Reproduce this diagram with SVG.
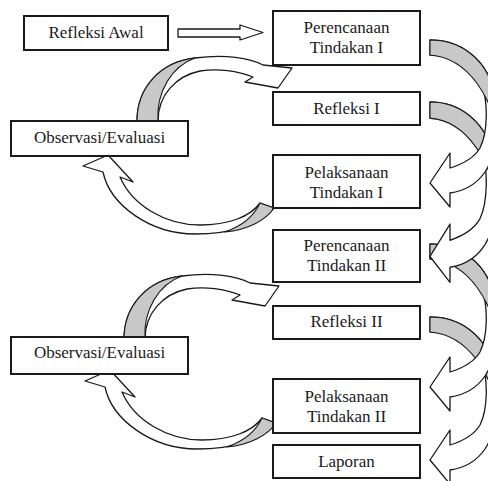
<svg xmlns="http://www.w3.org/2000/svg" width="488" height="481" viewBox="0 0 488 481">
<style>
.box{fill:#fff;stroke:#1a1a1a;stroke-width:2}
.lbl{font-family:"Liberation Serif","Times New Roman",serif;font-size:17px;fill:#1a1a1a;text-anchor:middle}
.band{fill:#fff;stroke:#1a1a1a;stroke-width:1.3;stroke-linejoin:round}
.shade{fill:#c8c8c8;stroke:#1a1a1a;stroke-width:1.1;stroke-linejoin:round}
</style>
<defs>
<g id="rarrow">
<path class="band" d="M0,0 C30,0 55,18 64,50 C72,80 68,112 55,132 C46,145 34,151 20,153 L20,167 L0,143 L20,113 L20,128 C33,124 44,118 50,108 C58,92 58,62 52,46 C45,27 26,15 0,15 Z"/>
<path class="shade" d="M0,0 C30,0 55,18 64,50 C68,65 69,80 68,95 C62,60 40,18 0,15 Z"/>
</g>
<g id="ltop">
<path class="band" d="M137,121 C137,88 160,62 195,58 C225,54 250,58 263,65 L292,68 L278,88 L245,82 L253,77 C238,71 218,68 200,71 C176,76 158,95 158,121 Z"/>
<path class="shade" d="M137,121 C137,88 160,62 195,58 C172,66 156,92 158,121 Z"/>
</g>
<g id="lbot">
<path class="band" d="M108,155 L83,166 L103,172 C110,205 150,234 195,234 C230,234 262,225 274,208 L260,203 C250,217 228,225 200,225 C165,225 132,205 120,177 L133,182 Z"/>
<path class="shade" d="M260,203 L274,208 C266,220 248,230 225,232 C242,226 254,216 260,203 Z"/>
</g>
</defs>
<g id="connectors">
<path class="band" d="M178,29 L240,29 L240,25 L263,32.5 L240,40 L240,37 L178,37 Z"/>
<use href="#ltop"/>
<use href="#lbot"/>
<use href="#ltop" transform="translate(-13,218)"/>
<use href="#lbot" transform="translate(2,215)"/>
<use href="#rarrow" transform="translate(430,317)"/>
<use href="#rarrow" transform="translate(430,244)"/>
<use href="#rarrow" transform="translate(430,102) scale(1,1.08)"/>
<use href="#rarrow" transform="translate(430,40)"/>
</g>
<g id="refleksi-awal"><rect class="box" x="24" y="16" width="144" height="34"/><text class="lbl" x="96" y="38">Refleksi Awal</text></g>
<g id="perencanaan-1"><rect class="box" x="273" y="11" width="147" height="54"/><text class="lbl" x="346.5" y="33">Perencanaan</text><text class="lbl" x="346.5" y="53">Tindakan I</text></g>
<g id="refleksi-1"><rect class="box" x="273" y="92" width="147" height="33"/><text class="lbl" x="346.5" y="114">Refleksi I</text></g>
<g id="observasi-1"><rect class="box" x="11" y="121" width="177" height="35"/><text class="lbl" x="99.5" y="143">Observasi/Evaluasi</text></g>
<g id="pelaksanaan-1"><rect class="box" x="273" y="155" width="147" height="53"/><text class="lbl" x="346.5" y="178">Pelaksanaan</text><text class="lbl" x="346.5" y="198">Tindakan I</text></g>
<g id="perencanaan-2"><rect class="box" x="273" y="230" width="147" height="52"/><text class="lbl" x="346.5" y="251">Perencanaan</text><text class="lbl" x="346.5" y="271">Tindakan II</text></g>
<g id="refleksi-2"><rect class="box" x="273" y="306" width="147" height="33"/><text class="lbl" x="346.5" y="327">Refleksi II</text></g>
<g id="observasi-2"><rect class="box" x="11" y="337" width="177" height="37"/><text class="lbl" x="99.5" y="358">Observasi/Evaluasi</text></g>
<g id="pelaksanaan-2"><rect class="box" x="273" y="379" width="147" height="54"/><text class="lbl" x="346.5" y="402">Pelaksanaan</text><text class="lbl" x="346.5" y="422">Tindakan II</text></g>
<g id="laporan"><rect class="box" x="273" y="445" width="147" height="33"/><text class="lbl" x="346.5" y="467">Laporan</text></g>
</svg>
